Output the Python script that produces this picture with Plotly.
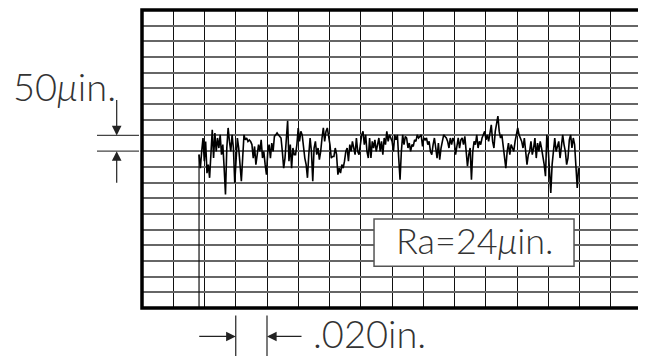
import numpy as np
import plotly.graph_objects as go

# ---- data -------------------------------------------------------------
# Surface profile heights (micro-inches), evenly spaced
# along the traversed length. Four consecutive stretches of the trace.
seg1_uin = [-11, -54, -1, 42, -32, 31, -70, -43, -85, -1, 68, -22, 58, -1, 42, 10,
            52, -11, 21, -54, -138, 10, 74, 31, -1, 52, 10, -101, -11, 42, 10, -32,
            -96, -22, 52, 36, 42, 31, 36, 31, 21, -22, 15, -43, -1, 21, -1, 36,
            -22, -1, -43, -75, -1, 21, -22, 26, -1, 47, 52, 58, 52, 47, 42, -1,
            -54, -22, 31, 97, -32, 21, -54, 10, -11]
seg2_uin = [-11, 21, 74, 31, 63, 52, 10, -22, -43, -85, -11, 42, -1, -96, 10, 31,
            -11, 10, -27, -1, 42, 74, 31, 63, 74, 52, 21, -22, -17, -17, 10, -11,
            -75, -54, -70, -43, -54, -32, -1, 10, -32, 21, -1, 31, 10, -11, 42, -1,
            -11, 31, 52, 63, 21, 52, -1, -22, 42, -22, 31, 10, 36, -1, 21, 42,
            -1, 31, -11, 42, 21, 63, 31, 52]
seg3_uin = [42, 31, -1, 52, 36, 52, -22, -91, -1, 52, 21, 47, 42, 10, 26, -1,
            21, 15, 36, 31, 52, 42, 47, 52, 15, 42, 36, 42, 21, 31, -1, -11,
            21, 42, 10, -22, 26, -27, 10, 31, 52, 47, 42, 31, 10, 42, 21, 42,
            31, -11, 21, 42, 10, 36, 42, 21, 47, -11, -48, -11, 10, -91, -1, 31,
            21, 52, 10, 31, 21, 42, 52, 63]
seg4_uin = [36, 52, 31, 68, 84, 31, 10, 63, 95, 112, 63, 42, 52, 21, -22, -54,
            -1, 26, -11, 21, 10, -1, 31, 52, 74, 52, 42, 31, 10, 42, -1, -43,
            -11, -1, 31, -11, 10, 42, -22, 26, -1, 31, 10, -11, -43, -80, 52, 10,
            -54, -133, -43, 10, 42, -1, 21, 31, -22, 10, 52, 21, -1, -43, -22, 36,
            52, 10, 42, 21, -54, -117, -54]
profile_uin = seg1_uin + seg2_uin + seg3_uin + seg4_uin

trace_start_in = 0.0365      # where the stylus trace begins (inches)
trace_end_in = 0.2794        # where it ends (inches)

x_grid_in = 0.020            # one horizontal division
y_grid_uin = 50              # one vertical division
x_range_in = [0.0, 0.32]
y_range_uin = [-500, 450]

label_vert = "50<i>μ</i>in."
label_horiz = ".020in."
label_ra = "Ra=24<i>μ</i>in."
ra_box_x = [0.1485, 0.2765]
ra_box_y = [-216, -367]

# ---- figure -----------------------------------------------------------
x_vals = np.linspace(trace_start_in, trace_end_in, len(profile_uin))

fig = go.Figure()
fig.add_trace(go.Scatter(x=[trace_start_in, trace_start_in],
                         y=[profile_uin[0], y_range_uin[0]],
                         mode="lines", line=dict(color="#111", width=1.2),
                         hoverinfo="skip"))
fig.add_trace(go.Scatter(x=x_vals, y=profile_uin, mode="lines",
                         line=dict(color="#000", width=1.6), hoverinfo="skip"))

OFF = 8                      # page body margin of the html page
W, H = 638, 348
ml, mr, mt, mb = 134, 4, 2, 47.5
pw, ph = W - ml - mr, H - mt - mb

def px_x(p):   # window pixel x -> paper x
    return (p - OFF - ml) / pw

def px_y(p):   # window pixel y -> paper y
    return (H - mb - (p - OFF)) / ph

FONT = "Lato"
fig.update_layout(
    width=W, height=H,
    margin=dict(l=ml, r=mr, t=mt, b=mb, pad=0),
    paper_bgcolor="white", plot_bgcolor="white",
    showlegend=False,
    xaxis=dict(range=x_range_in, tick0=0, dtick=x_grid_in, showgrid=True,
               gridcolor="#111", gridwidth=1.4, showticklabels=False,
               ticks="", zeroline=False, showline=False, fixedrange=True),
    yaxis=dict(range=y_range_uin, tick0=0, dtick=y_grid_uin, showgrid=True,
               gridcolor="#666", gridwidth=1.5, showticklabels=False,
               ticks="", zeroline=False, showline=False, fixedrange=True),
)

shapes = [
    # outer frame
    dict(type="rect", xref="paper", yref="paper", x0=0, x1=1, y0=0, y1=1,
         line=dict(color="#000", width=3.5), layer="above"),
    # Ra box
    dict(type="rect", xref="x", yref="y", x0=ra_box_x[0], x1=ra_box_x[1],
         y0=ra_box_y[0], y1=ra_box_y[1], fillcolor="white",
         line=dict(color="#555", width=1.5), layer="above"),
    # vertical dimension extension lines
    dict(type="line", xref="paper", yref="y", x0=px_x(97), x1=px_x(139),
         y0=y_grid_uin, y1=y_grid_uin, line=dict(color="#444", width=1.3)),
    dict(type="line", xref="paper", yref="y", x0=px_x(97), x1=px_x(139),
         y0=0, y1=0, line=dict(color="#444", width=1.3)),
    # horizontal dimension extension lines
    dict(type="line", xref="x", yref="paper", x0=3 * x_grid_in, x1=3 * x_grid_in,
         y0=px_y(316), y1=px_y(357), line=dict(color="#222", width=1.2)),
    dict(type="line", xref="x", yref="paper", x0=4 * x_grid_in, x1=4 * x_grid_in,
         y0=px_y(316), y1=px_y(357), line=dict(color="#222", width=1.2)),
]
fig.update_layout(shapes=shapes)

arrow_common = dict(text="", showarrow=True, arrowhead=2, arrowsize=1.6,
                    arrowwidth=1.2, arrowcolor="#222", standoff=0, startstandoff=0)
annotations = [
    dict(xref="paper", yref="y", x=px_x(116.7), y=y_grid_uin, ax=0, ay=-37,
         **arrow_common),
    dict(xref="paper", yref="y", x=px_x(116.7), y=0, ax=0, ay=33, **arrow_common),
    dict(xref="x", yref="paper", x=3 * x_grid_in, y=px_y(337), ax=-38, ay=0,
         **arrow_common),
    dict(xref="x", yref="paper", x=4 * x_grid_in, y=px_y(337), ax=36, ay=0,
         **arrow_common),
    dict(xref="paper", yref="paper", x=px_x(11), y=px_y(86), xanchor="left",
         yanchor="middle", text=label_vert, showarrow=False,
         font=dict(family=FONT, size=38, color="#333", weight=300)),
    dict(xref="paper", yref="paper", x=px_x(311), y=px_y(334), xanchor="left",
         yanchor="middle", text=label_horiz, showarrow=False,
         font=dict(family=FONT, size=38, color="#333", weight=300)),
    dict(xref="x", yref="paper", x=(ra_box_x[0] + ra_box_x[1]) / 2, y=px_y(240),
         xanchor="center", yanchor="middle", text=label_ra, showarrow=False,
         font=dict(family=FONT, size=36, color="#333", weight=300)),
]
fig.update_layout(annotations=annotations)

fig.write_html("out.html")
